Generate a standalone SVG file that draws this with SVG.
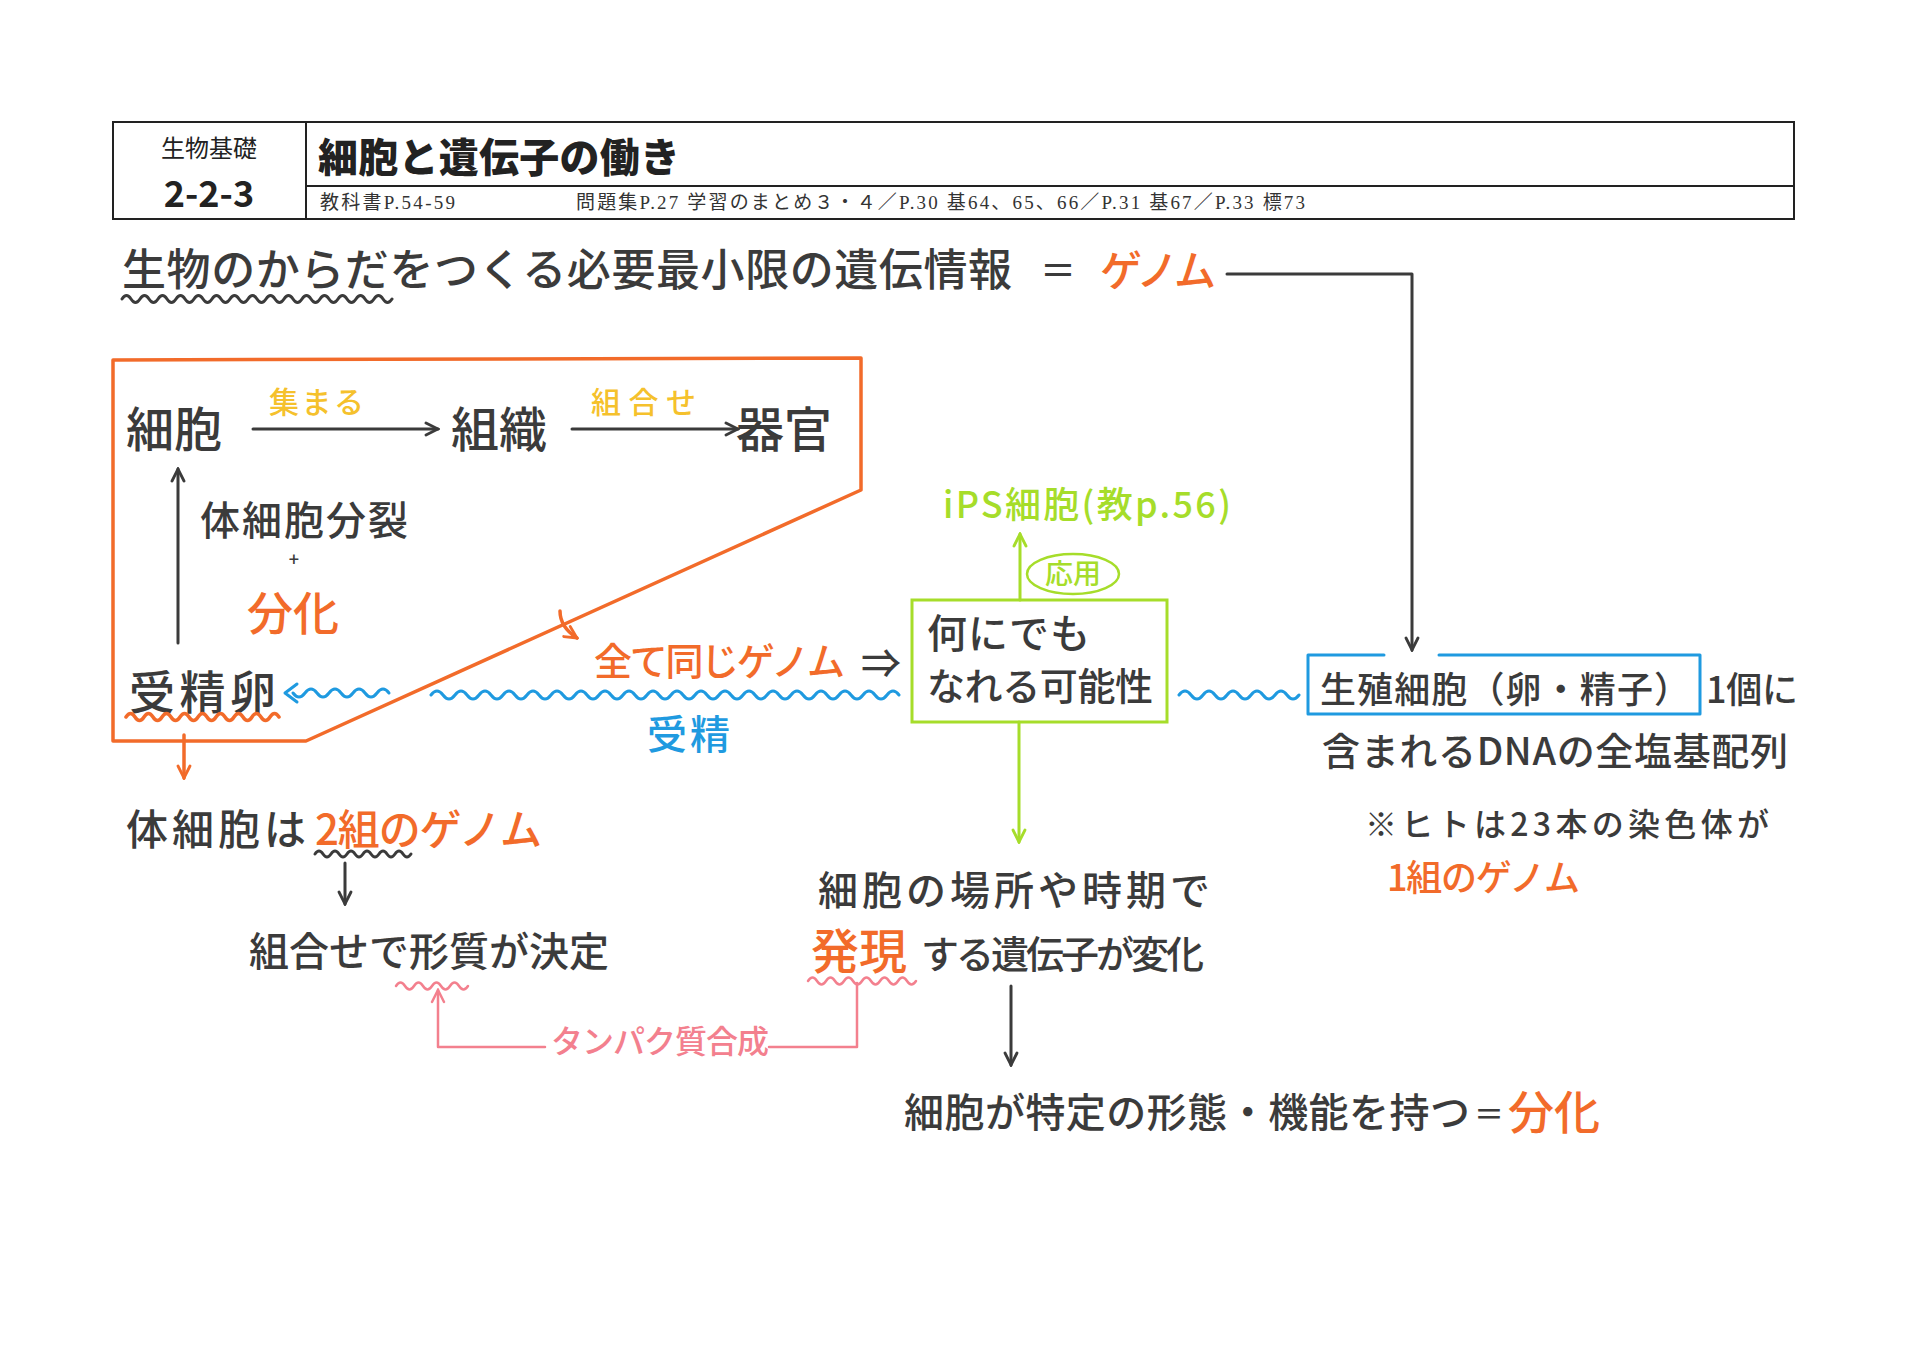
<svg xmlns="http://www.w3.org/2000/svg" width="1920" height="1355" viewBox="0 0 1920 1355">
<style>
.t{font-family:'Noto Sans CJK JP','Noto Sans',sans-serif;fill:#3b3b3b;font-weight:500}
.or{fill:#f26b2a}
.ye{fill:#f5c12c}
.gr{fill:#a6dd2a}
.bl{fill:#1f9ae0}
.pk{fill:#f3808e}
.hd{font-family:'Noto Sans CJK JP',sans-serif;fill:#222}
.ref{font-family:'Liberation Serif','Noto Sans CJK JP',serif;fill:#333;font-size:19px}
.ln{fill:none;stroke:#3b3b3b;stroke-width:3;stroke-linecap:round;stroke-linejoin:round}
.lo{fill:none;stroke:#f26b2a;stroke-width:3.5;stroke-linecap:round;stroke-linejoin:round}
.lg{fill:none;stroke:#a6dd2a;stroke-width:3;stroke-linecap:round}
.lb{fill:none;stroke:#1f9ae0;stroke-width:3;stroke-linecap:round;stroke-linejoin:round}
.lp{fill:none;stroke:#f3808e;stroke-width:2.5;stroke-linecap:round;stroke-linejoin:round}
</style>
<defs>
<marker id="ad" viewBox="0 0 16 16" refX="14" refY="8" markerWidth="16" markerHeight="16" markerUnits="userSpaceOnUse" orient="auto"><path d="M2 2 L14 8 L2 14" fill="none" stroke="#3b3b3b" stroke-width="2.8" stroke-linecap="round"/></marker>
<marker id="ao" viewBox="0 0 16 16" refX="14" refY="8" markerWidth="16" markerHeight="16" markerUnits="userSpaceOnUse" orient="auto"><path d="M2 2 L14 8 L2 14" fill="none" stroke="#f26b2a" stroke-width="2.8" stroke-linecap="round"/></marker>
<marker id="ag" viewBox="0 0 16 16" refX="14" refY="8" markerWidth="16" markerHeight="16" markerUnits="userSpaceOnUse" orient="auto"><path d="M2 2 L14 8 L2 14" fill="none" stroke="#a6dd2a" stroke-width="2.8" stroke-linecap="round"/></marker>
<marker id="ap" viewBox="0 0 16 16" refX="14" refY="8" markerWidth="16" markerHeight="16" markerUnits="userSpaceOnUse" orient="auto"><path d="M2 2 L14 8 L2 14" fill="none" stroke="#f3808e" stroke-width="2.5" stroke-linecap="round"/></marker>
</defs>
<rect width="1920" height="1355" fill="#ffffff"/>

<g id="header">
<rect x="113" y="122" width="1681" height="97" fill="none" stroke="#222" stroke-width="2"/>
<line x1="306" y1="122" x2="306" y2="219" stroke="#222" stroke-width="2"/>
<line x1="306" y1="186" x2="1794" y2="186" stroke="#222" stroke-width="2"/>
<text class="hd" x="209" y="157" font-size="24" text-anchor="middle">生物基礎</text>
<text class="hd" x="209" y="207" font-size="36" font-weight="700" text-anchor="middle">2-2-3</text>
<text class="hd" x="318" y="172" font-size="40" font-weight="900" textLength="362">細胞と遺伝子の働き</text>
<text class="ref" x="320" y="209" textLength="135">教科書P.54-59</text>
<text class="ref" x="576" y="209" textLength="729">問題集P.27 学習のまとめ３・４／P.30 基64、65、66／P.31 基67／P.33 標73</text>
</g>

<g id="genome-def">
<text class="t" x="122" y="286" font-size="44" textLength="890">生物のからだをつくる必要最小限の遺伝情報</text>
<text class="t" x="1040" y="284" font-size="36">＝</text>
<text class="t or" x="1100" y="286" font-size="42" textLength="116">ゲノム</text>
<path class="ln" stroke-width="2.5" d="M122 299 q4.5 -7 9 0 t9 0 t9 0 t9 0 t9 0 t9 0 t9 0 t9 0 t9 0 t9 0 t9 0 t9 0 t9 0 t9 0 t9 0 t9 0 t9 0 t9 0 t9 0 t9 0 t9 0 t9 0 t9 0 t9 0 t9 0 t9 0 t9 0 t9 0 t9 0 t9 0"/>
</g>

<g id="body-box">
<path class="lo" d="M113 360 L861 358 L861 490 L306 741 L113 741 Z"/>
</g>

<g id="cell"><text class="t" x="126" y="447" font-size="48">細胞</text></g>
<g id="tissue"><text class="t" x="451" y="447" font-size="48">組織</text></g>
<g id="organ"><text class="t" x="736" y="447" font-size="48">器官</text></g>
<g id="label-atsumaru"><text class="t ye" x="269" y="413" font-size="30" textLength="95">集まる</text></g>
<g id="label-kumiawase"><text class="t ye" x="591" y="413" font-size="30" textLength="105">組合せ</text></g>
<g id="label-division">
<text class="t" x="200" y="535" font-size="40" textLength="208">体細胞分裂</text>
<text class="t" x="294" y="566" font-size="18" text-anchor="middle">+</text>
<text class="t or" x="247" y="630" font-size="46">分化</text>
</g>
<g id="zygote">
<text class="t" x="129" y="709" font-size="46" textLength="147">受精卵</text>
<path class="lo" stroke-width="3" d="M126 717 q4.5 -7 9 0 t9 0 t9 0 t9 0 t9 0 t9 0 t9 0 t9 0 t9 0 t9 0 t9 0 t9 0 t9 0 t9 0 t9 0 t9 0 t9 0"/>
</g>
<g id="label-fertilization"><text class="t bl" x="647" y="749" font-size="40" textLength="83">受精</text></g>
<g id="same-genome">
<text class="t or" x="594" y="675" font-size="38" textLength="251">全て同じゲノム</text>
<text class="t" x="861" y="678" font-size="40" font-family="'DejaVu Sans',sans-serif">⇒</text>
</g>
<g id="potential">
<rect x="912" y="600" width="255" height="122" fill="none" stroke="#a6dd2a" stroke-width="3"/>
<text class="t" x="927" y="648" font-size="40" textLength="163">何にでも</text>
<text class="t" x="927" y="700" font-size="38" textLength="226">なれる可能性</text>
</g>
<g id="ips">
<text class="t gr" x="943" y="518" font-size="36" textLength="288">iPS細胞(教p.56)</text>
<ellipse cx="1073" cy="574" rx="46" ry="20" fill="none" stroke="#a6dd2a" stroke-width="2.5"/>
<text class="t gr" x="1073" y="584" font-size="28" text-anchor="middle">応用</text>
</g>
<g id="germ-cell">
<path class="lb" d="M1384 655 H1308 V714 H1700 V655 H1439"/>
<text class="t" x="1320" y="703" font-size="36" textLength="370">生殖細胞（卵・精子）</text>
<text class="t" x="1706" y="703" font-size="36" textLength="92">1個に</text>
<text class="t" x="1322" y="765" font-size="38" textLength="466">含まれるDNAの全塩基配列</text>
</g>
<g id="note-human">
<text class="t" x="1365" y="836" font-size="32" textLength="404">※ヒトは23本の染色体が</text>
<text class="t or" x="1387" y="891" font-size="36" textLength="193">1組のゲノム</text>
</g>
<g id="somatic-genome">
<text class="t" x="126" y="845" font-size="42" textLength="180">体細胞は</text>
<text class="t or" x="315" y="845" font-size="42" textLength="227">2組のゲノム</text>
<path class="ln" stroke-width="2.5" d="M315 854 q4 -6 8 0 t8 0 t8 0 t8 0 t8 0 t8 0 t8 0 t8 0 t8 0 t8 0 t8 0 t8 0"/>
</g>
<g id="trait">
<text class="t" x="249" y="966" font-size="40" textLength="360">組合せで形質が決定</text>
<path class="lp" d="M396 986 q4.5 -7 9 0 t9 0 t9 0 t9 0 t9 0 t9 0 t9 0 t9 0"/>
</g>
<g id="label-protein"><text class="t pk" x="551" y="1053" font-size="32" textLength="218">タンパク質合成</text></g>
<g id="expression">
<text class="t" x="818" y="905" font-size="40" textLength="392">細胞の場所や時期で</text>
<text class="t or" x="811" y="969" font-size="48">発現</text>
<text class="t" x="921" y="968" font-size="38" textLength="283">する遺伝子が変化</text>
<path class="lp" d="M808 981 q4.5 -7 9 0 t9 0 t9 0 t9 0 t9 0 t9 0 t9 0 t9 0 t9 0 t9 0 t9 0 t9 0"/>
</g>
<g id="differentiation">
<text class="t" x="904" y="1127" font-size="40" textLength="566">細胞が特定の形態・機能を持つ</text>
<text class="t" x="1474" y="1125" font-size="30">＝</text>
<text class="t or" x="1508" y="1129" font-size="46">分化</text>
</g>

<g id="connectors">
<path class="ln" d="M1227 274 H1412 V650" marker-end="url(#ad)"/>
<path class="ln" d="M253 429 H438" marker-end="url(#ad)"/>
<path class="ln" d="M572 429 H738" marker-end="url(#ad)"/>
<path class="ln" d="M178 643 V469" marker-end="url(#ad)"/>
<path class="ln" stroke-width="2.5" d="M345 863 V904" marker-end="url(#ad)"/>
<path class="ln" d="M1011 986 V1065" marker-end="url(#ad)"/>
<path class="lo" stroke-width="3" d="M184 735 V778" marker-end="url(#ao)"/>
<path class="lo" stroke-width="3" d="M560 611 q0 16 17 27" marker-end="url(#ao)"/>
<path class="lg" d="M1020 600 V534" marker-end="url(#ag)"/>
<path class="lg" d="M1019 722 V842" marker-end="url(#ag)"/>
<path class="lp" d="M545 1047 H438 V990" marker-end="url(#ap)"/>
<path class="lp" d="M769 1047 H857 V983"/>
<path class="lb" d="M389 693 q-6 -8 -12 0 t-12 0 t-12 0 t-12 0 t-12 0 t-12 0 t-12 0 t-12 0"/>
<path class="lb" d="M297 684 L285 693 L297 702"/>
<path class="lb" d="M431 695 q6 -8 12 0 t12 0 t12 0 t12 0 t12 0 t12 0 t12 0 t12 0 t12 0 t12 0 t12 0 t12 0 t12 0 t12 0 t12 0 t12 0 t12 0 t12 0 t12 0 t12 0 t12 0 t12 0 t12 0 t12 0 t12 0 t12 0 t12 0 t12 0 t12 0 t12 0 t12 0 t12 0 t12 0 t12 0 t12 0 t12 0 t12 0 t12 0 t12 0"/>
<path class="lb" d="M1179 695 q6 -8 12 0 t12 0 t12 0 t12 0 t12 0 t12 0 t12 0 t12 0 t12 0 t12 0"/>
</g>
</svg>
